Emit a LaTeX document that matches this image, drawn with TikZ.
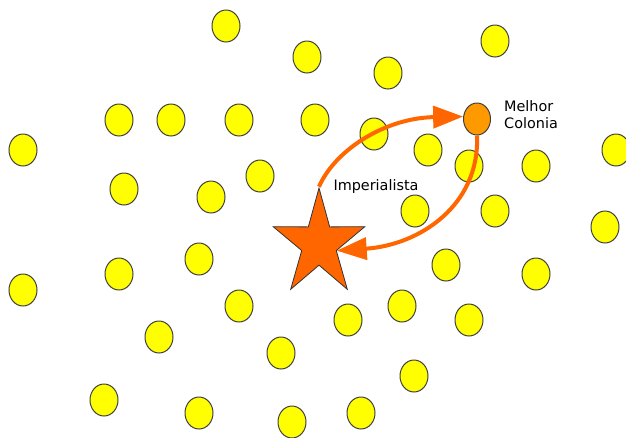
\documentclass[tikz,border=0pt]{standalone}
\usepackage{fontspec}
\setmainfont{DejaVu Sans}
\usepackage{tikz}
\usetikzlibrary{shapes.geometric}
\usetikzlibrary{positioning}
\usetikzlibrary{arrows.meta}
\definecolor{starorange}{HTML}{FF6600}
\definecolor{bestorange}{HTML}{FF9900}
\definecolor{dotyellow}{HTML}{FFFF00}
\tikzstyle{line} = [draw, starorange, line width=4pt,
-{Triangle[length=30pt,width=22pt]}]
\begin{document}
\begin{tikzpicture}[x=1pt, y=-1pt,
	every node/.style={font=\fontsize{14.4}{17}\selectfont},
	colony/.style={ellipse, draw=black!75, line width=1pt,
	fill=dotyellow, minimum width=28pt, minimum height=32pt, inner sep=0pt}]
	\useasboundingbox (0,0) rectangle (626,437);
	%% Colonies
	\node [colony] (C1) at (226,26) {};
	\node [colony] (C2) at (307,57) {};
	\node [colony] (C3) at (388,73) {};
	\node [colony] (C4) at (495,41) {};
	\node [colony] (C5) at (119,120) {};
	\node [colony] (C6) at (171,120) {};
	\node [colony] (C7) at (239,120) {};
	\node [colony] (C8) at (315,120) {};
	\node [colony] (C9) at (374,134) {};
	\node [colony] (C10) at (23,150) {};
	\node [colony] (C11) at (428,150) {};
	\node [colony] (C12) at (469,166) {};
	\node [colony] (C13) at (536,166) {};
	\node [colony] (C14) at (616,150) {};
	\node [colony] (C15) at (124,189) {};
	\node [colony] (C16) at (211,197) {};
	\node [colony] (C17) at (260,176) {};
	\node [colony] (C18) at (415,211) {};
	\node [colony] (C19) at (495,211) {};
	\node [colony] (C20) at (605,227) {};
	\node [colony] (C21) at (199,259) {};
	\node [colony] (C22) at (119,274) {};
	\node [colony] (C23) at (23,290) {};
	\node [colony] (C24) at (446,265) {};
	\node [colony] (C25) at (536,274) {};
	\node [colony] (C26) at (239,306) {};
	\node [colony] (C27) at (348,320) {};
	\node [colony] (C28) at (402,306) {};
	\node [colony] (C29) at (469,320) {};
	\node [colony] (C30) at (159,337) {};
	\node [colony] (C31) at (281,353) {};
	\node [colony] (C32) at (414,376) {};
	\node [colony] (C33) at (104,400) {};
	\node [colony] (C34) at (199,413) {};
	\node [colony] (C35) at (292,422) {};
	\node [colony] (C36) at (361,413) {};
	%% Best colony and imperialist
	\node [colony, fill=bestorange, minimum width=27pt] (best) at (477,119) {};
	\node [star, star points=5, star point ratio=2.65, minimum size=112pt,
	inner sep=0pt, xscale=0.86, draw=black!80, line width=0.8pt,
	fill=starorange] (imp) at (319,244) {};
	%% Labels
	\node (lblimp) at (376,187) {Imperialista};
	\node [right=11pt of best, align=left, inner sep=2pt, yshift=4pt]
	(lblbest) {Melhor\\Colonia};
	%% Arrows
	\path [line] (imp.outer point 1) .. controls (335,150) and (385,118) .. (best.170);
	\path [line] (best.south) .. controls (480,205) and (420,245) .. (imp.inner point 4);
\end{tikzpicture}
\end{document}
